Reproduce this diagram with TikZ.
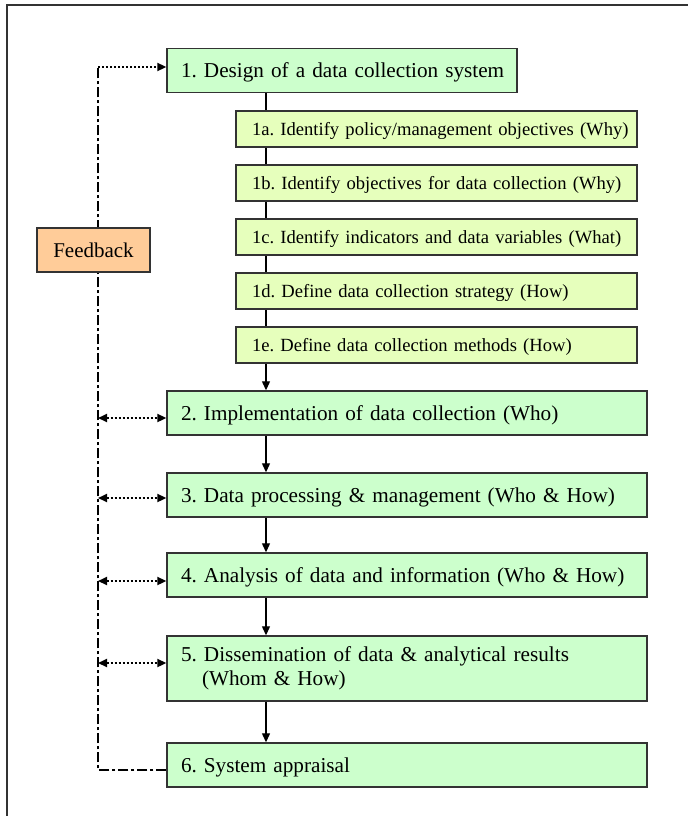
\documentclass[tikz,border=0pt]{standalone}
\usepackage{fontspec}
\setmainfont{Liberation Serif}
\usetikzlibrary{arrows.meta,backgrounds}
\definecolor{stepgreen}{HTML}{CCFFCC}
\definecolor{subgreen}{HTML}{E6FFBC}
\definecolor{fbfill}{HTML}{FFCC99}
\definecolor{edge}{HTML}{333333}
\newcommand{\nohyph}{\frenchspacing\hyphenpenalty=10000\relax}
\tikzset{
  mainbox/.style={draw=edge, line width=1.4pt, fill=stepgreen, minimum height=44pt,
    inner xsep=0pt, inner ysep=0pt, align=left, anchor=center,
    font=\nohyph\fontsize{21.2}{24}\selectfont,
    text height=15pt, text depth=1pt},
  subbox/.style={draw=edge, line width=1.4pt, fill=subgreen, minimum width=401pt, minimum height=36pt,
    inner xsep=0pt, inner ysep=0pt, text width=401pt, align=left,
    font=\nohyph\fontsize{18.6}{22}\selectfont,
    text height=13pt, text depth=1pt},
  fbbox/.style={draw=edge, line width=1.4pt, fill=fbfill, minimum width=113pt, minimum height=44pt,
    inner sep=0pt, font=\fontsize{21}{24}\selectfont, text height=15pt, text depth=1pt},
  flow/.style={draw=black, line width=1.2pt, -{Triangle[length=9pt,width=8pt]}},
  dotarrow/.style={draw=black, line width=2pt, dash pattern=on 2pt off 2pt,
    {Triangle[length=9pt,width=8pt]}-{Triangle[length=9pt,width=8pt]}},
  dotarrowone/.style={draw=black, line width=2pt, dash pattern=on 2pt off 2pt,
    -{Triangle[length=9pt,width=8pt]}},
  dashdotline/.style={draw=black, line width=2.6pt, dash pattern=on 10pt off 3pt on 3pt off 3pt},
}
\newcommand{\mainind}{\hspace*{14pt}}
\newcommand{\subind}{\hspace*{16pt}}
\begin{document}
\begin{tikzpicture}[x=1pt, y=-1pt]
\useasboundingbox (0,0) rectangle (688,816);
% frame
\draw[edge, line width=1.5pt] (7,816) -- (7,5) -- (688,5);

% main steps and sub-steps
\node[mainbox, minimum width=350pt, text width=350pt] (s1) at (342,70.5) {\mainind 1. Design of a data collection system};
\node[subbox] (s1a) at (436.5,129) {\subind 1a. Identify policy/management objectives (Why)};
\node[subbox] (s1b) at (436.5,183) {\subind 1b. Identify objectives for data collection (Why)};
\node[subbox] (s1c) at (436.5,237) {\subind 1c. Identify indicators and data variables (What)};
\node[subbox] (s1d) at (436.5,291) {\subind 1d. Define data collection strategy (How)};
\node[subbox] (s1e) at (436.5,345) {\subind 1e. Define data collection methods (How)};
\node[mainbox, minimum width=480pt, text width=480pt] (s2) at (407,413) {\mainind 2. Implementation of data collection (Who)};
\node[mainbox, minimum width=480pt, text width=480pt] (s3) at (407,495) {\mainind 3. Data processing \& management (Who \& How)};
\node[mainbox, minimum width=480pt, text width=480pt] (s4) at (407,575) {\mainind 4. Analysis of data and information (Who \& How)};
\node[mainbox, minimum width=480pt, text width=480pt, minimum height=65pt, text height=, text depth=] (s5) at (407,668.5)
  {\mainind 5. Dissemination of data \& analytical results\\\hspace*{35pt}(Whom \& How)};
\node[mainbox, minimum width=480pt, text width=480pt] (s6) at (407,765) {\mainind 6. System appraisal};
\node[fbbox] (fb) at (93.5,250) {Feedback};

% corner points of the feedback loop
\coordinate (ftop) at (98,67);
\coordinate (fbot) at (98,770);

\begin{scope}[on background layer]
  % vertical spine through the sub-steps
  \draw[flow] (s1.south -| 266,0) -- (s2.north -| 266,0);
  % feedback loop
  \draw[dashdotline] (s6.west |- fbot) -- (fbot) -- (ftop);
\end{scope}

\draw[flow] (s2.south -| 266,0) -- (s3.north -| 266,0);
\draw[flow] (s3.south -| 266,0) -- (s4.north -| 266,0);
\draw[flow] (s4.south -| 266,0) -- (s5.north -| 266,0);
\draw[flow] (s5.south -| 266,0) -- (s6.north -| 266,0);

\draw[dotarrowone] (ftop) -- (s1.west |- ftop);
\draw[dotarrow] (98,418) -- (s2.west |- 0,418);
\draw[dotarrow] (98,498) -- (s3.west |- 0,498);
\draw[dotarrow] (98,581) -- (s4.west |- 0,581);
\draw[dotarrow] (98,663) -- (s5.west |- 0,663);
\end{tikzpicture}
\end{document}
